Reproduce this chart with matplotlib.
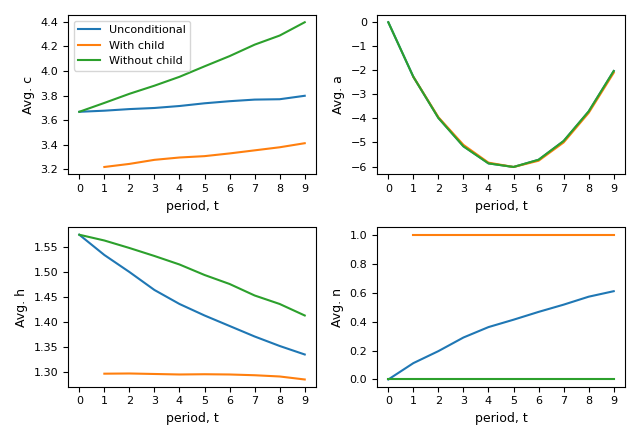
import numpy as np
import matplotlib.pyplot as plt
from matplotlib.ticker import MultipleLocator

periods = np.arange(10)
periods_child = np.arange(1, 10)

# average consumption
c_uncond = [3.668, 3.677, 3.690, 3.699, 3.715, 3.737, 3.754, 3.767, 3.770, 3.798]
c_child = [3.220, 3.245, 3.278, 3.297, 3.308, 3.330, 3.355, 3.380, 3.413]
c_nochild = [3.668, 3.740, 3.814, 3.880, 3.952, 4.037, 4.120, 4.213, 4.287, 4.395]

# average assets
a_uncond = [0.0, -2.27, -3.98, -5.16, -5.87, -6.02, -5.72, -4.94, -3.71, -2.03]
a_child = [-2.27, -3.95, -5.10, -5.84, -6.02, -5.76, -5.00, -3.77, -2.10]
a_nochild = [0.0, -2.27, -3.98, -5.16, -5.87, -6.02, -5.72, -4.94, -3.71, -2.03]

# average hours
h_uncond = [1.5745, 1.534, 1.500, 1.464, 1.436, 1.413, 1.392, 1.371, 1.352, 1.335]
h_child = [1.2966, 1.297, 1.296, 1.295, 1.2955, 1.295, 1.2935, 1.291, 1.285]
h_nochild = [1.5745, 1.563, 1.548, 1.532, 1.515, 1.494, 1.476, 1.453, 1.436, 1.413]

# average number of children
n_uncond = [0.0, 0.113, 0.196, 0.290, 0.362, 0.413, 0.467, 0.517, 0.572, 0.610]
n_child = [1.0] * 9
n_nochild = [0.0] * 10

plt.rcParams['xtick.labelsize'] = 8
plt.rcParams['ytick.labelsize'] = 8
plt.rcParams['axes.labelsize'] = 9

fig, axes = plt.subplots(2, 2, figsize=(6.4, 4.4), dpi=100)

panels = [
    (axes[0, 0], c_uncond, c_child, c_nochild, 'Avg. c', 0.2),
    (axes[0, 1], a_uncond, a_child, a_nochild, 'Avg. a', 1),
    (axes[1, 0], h_uncond, h_child, h_nochild, 'Avg. h', 0.05),
    (axes[1, 1], n_uncond, n_child, n_nochild, 'Avg. n', 0.2),
]

for ax, unc, chi, noc, lab, step in panels:
    ax.plot(periods, unc, label='Unconditional')
    ax.plot(periods_child, chi, label='With child')
    ax.plot(periods, noc, label='Without child')
    ax.set_xlabel('period, t')
    ax.set_ylabel(lab)
    ax.set_xticks(periods)
    ax.yaxis.set_major_locator(MultipleLocator(step))

axes[0, 0].legend(loc='upper left', fontsize=8)

plt.tight_layout()
plt.savefig('out.png')
